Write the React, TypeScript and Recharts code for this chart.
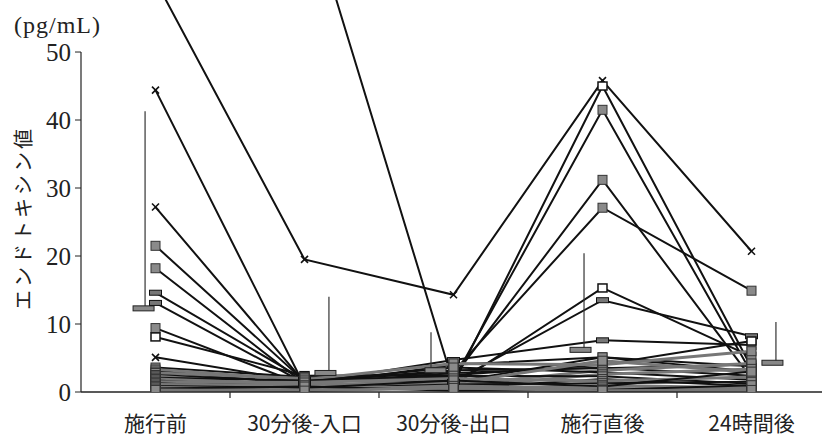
import React from 'react';
import { ComposedChart, Line, Scatter, XAxis, YAxis, ErrorBar, ReferenceLine } from 'recharts';

const timePoints = ['施行前', '30分後-入口', '30分後-出口', '施行直後', '24時間後'];

// 症例ごとのエンドトキシン値 (pg/mL): 施行前, 入口, 出口, 直後, 24時間後
const patientValues: number[][] = [
  [60.5, 19.5, 14.3, 45.8, 20.7],
  [95.0, 73.0, 1.2, 45.0, 3.6],
  [44.4, 0.9, 1.8, 41.5, 2.8],
  [27.2, 1.4, 2.2, 31.2, 2.0],
  [21.5, 1.6, 3.0, 27.1, 14.9],
  [18.2, 1.2, 1.0, 15.3, 5.2],
  [14.6, 1.8, 1.5, 13.5, 8.2],
  [13.1, 1.3, 4.7, 7.6, 6.9],
  [9.4, 1.0, 4.0, 5.1, 3.0],
  [8.1, 2.4, 2.5, 4.0, 7.5],
  [5.1, 1.5, 3.2, 3.5, 4.0],
  [3.6, 2.2, 1.5, 5.1, 3.8],
  [3.3, 1.8, 4.2, 4.0, 6.0],
  [3.0, 1.2, 2.8, 3.6, 2.4],
  [2.8, 2.0, 1.0, 3.2, 4.2],
  [2.5, 1.5, 3.6, 2.9, 1.8],
  [2.3, 0.9, 0.7, 2.6, 3.4],
  [2.1, 1.7, 2.4, 2.3, 1.2],
  [1.9, 1.1, 1.3, 4.6, 2.9],
  [1.7, 0.7, 0.5, 1.9, 0.9],
  [1.5, 1.4, 2.0, 1.6, 2.2],
  [1.3, 0.5, 1.1, 1.3, 1.5],
  [1.1, 1.0, 0.4, 1.0, 0.6],
  [0.9, 0.6, 1.7, 0.8, 3.0],
  [0.7, 0.3, 0.9, 0.5, 0.4],
  [0.5, 0.8, 0.2, 0.3, 1.0],
  [0.3, 0.2, 0.6, 0.2, 0.3],
];

const meanValues = [12.3, 2.8, 3.2, 6.2, 4.3];
const sdValues = [29.0, 11.2, 5.6, 14.2, 6.0];
const yTicks = [0, 10, 20, 30, 40, 50];
const xBoundaries = [0.5, 1.5, 2.5, 3.5];

// marker per patient and time point: x = cross, o = open square, b = bar, g = gray square
const markerKinds = [
  'xxxxx', 'ooooo', 'xgggg', 'xgggg', 'ggggg', 'gggog', 'bbbbb', 'bbbbg', 'ggggg', 'ooooo', 'xgggg',
  'ggggg', 'ggggg', 'ggggg', 'ggggg', 'ggggg', 'ggggg', 'ggggg', 'ggggg', 'ggggg', 'ggggg', 'ggggg',
  'ggggg', 'ggggg', 'ggggg', 'ggggg', 'ggggg',
];

// where the mean marks sit relative to each time point
const meanShift = [-0.07, 0.164, -0.151, -0.124, 0.164];
const dashLeft = [-12, -14, -6, -14, -14];

const rows = timePoints.map((_, i) => {
  const row: Record<string, number> = { x: i };
  patientValues.forEach((vals, p) => {
    row[`p${p}`] = vals[i];
  });
  return row;
});

const meanRows = meanValues.map((m, i) => ({
  x: i + meanShift[i],
  mean: m,
  err: [0, sdValues[i]],
  idx: i,
}));

const renderDot = (kinds: string) => (props: any) => {
  const { cx, cy, index } = props;
  if (cx == null || cy == null) return <g key={index} />;
  const kind = kinds[index];
  if (kind === 'x') {
    return (
      <g key={index} stroke="#111" strokeWidth={1.6}>
        <line x1={cx - 3.5} y1={cy - 3.5} x2={cx + 3.5} y2={cy + 3.5} />
        <line x1={cx - 3.5} y1={cy + 3.5} x2={cx + 3.5} y2={cy - 3.5} />
      </g>
    );
  }
  if (kind === 'o') {
    return <rect key={index} x={cx - 4.5} y={cy - 4} width={9} height={8} fill="#fff" stroke="#111" strokeWidth={1.5} />;
  }
  if (kind === 'b') {
    return <rect key={index} x={cx - 6} y={cy - 2.5} width={12} height={5} fill="#777" stroke="#111" strokeWidth={1} />;
  }
  return <rect key={index} x={cx - 4.5} y={cy - 4.5} width={9} height={9} fill="#8a8a8a" stroke="#333" strokeWidth={1} />;
};

const renderMean = (props: any) => {
  const { cx, cy, payload } = props;
  const left = dashLeft[payload.idx];
  return <rect x={cx + left} y={cy - 2.5} width={21} height={5} fill="#888" stroke="#222" strokeWidth={1} />;
};

export default function App() {
  return (
    <div style={{ position: 'absolute', left: 0, top: 0, width: 822, height: 440, overflow: 'hidden', background: '#fff' }}>
      <ComposedChart width={830} height={440} data={rows} margin={{ top: 0, right: 4, bottom: 0, left: 0 }}>
        <XAxis
          dataKey="x"
          type="number"
          domain={[-0.5, 4.5]}
          ticks={[0, 1, 2, 3, 4]}
          interval={0}
          tickFormatter={(v: number) => timePoints[v]}
          tickLine={false}
          tickSize={0}
          tickMargin={24}
          height={48}
          axisLine={{ stroke: '#222', strokeWidth: 1.5 }}
          tick={{ fontSize: 21, fill: '#222', fontFamily: 'Noto Sans CJK JP' }}
        />
        <YAxis
          type="number"
          domain={[0, 57.65]}
          allowDataOverflow
          ticks={yTicks}
          width={81}
          axisLine={false}
          tickSize={6}
          tickMargin={4}
          tickLine={{ stroke: '#222' }}
          tick={{ fontSize: 25, fill: '#222', fontFamily: 'Liberation Serif' }}
        />
        <ReferenceLine
          segment={[{ x: -0.5, y: 0 }, { x: -0.5, y: 50 }]}
          stroke="#222"
          strokeWidth={1.2}
          ifOverflow="visible"
        />
        {xBoundaries.map((b) => (
          <ReferenceLine
            key={b}
            segment={[{ x: b, y: 0 }, { x: b, y: -0.9 }]}
            stroke="#222"
            strokeWidth={1.2}
            ifOverflow="visible"
          />
        ))}
        {patientValues.map((_, p) => (
          <Line
            key={p}
            dataKey={`p${p}`}
            type="linear"
            stroke={p > 11 && p % 2 === 0 ? '#777' : '#111'}
            strokeWidth={p > 11 && p % 2 === 0 ? 3 : 2}
            dot={renderDot(markerKinds[p])}
            activeDot={false}
            isAnimationActive={false}
          />
        ))}
        <Scatter data={meanRows} dataKey="mean" shape={renderMean} isAnimationActive={false}>
          <ErrorBar dataKey="err" direction="y" width={0} stroke="#333" strokeWidth={1.2} isAnimationActive={false} />
        </Scatter>
      </ComposedChart>
      <div
        style={{
          position: 'absolute',
          left: 14,
          top: 13,
          fontFamily: 'Liberation Serif',
          fontSize: 24,
          lineHeight: '24px',
          letterSpacing: 1,
          color: '#222',
        }}
      >
        (pg/mL)
      </div>
      <div
        style={{
          position: 'absolute',
          left: 23,
          top: 218,
          transform: 'translate(-50%, -50%) rotate(-90deg)',
          whiteSpace: 'nowrap',
          fontFamily: 'Noto Sans CJK JP',
          fontSize: 20,
          lineHeight: '20px',
          letterSpacing: 3,
          color: '#222',
        }}
      >
        エンドトキシン値
      </div>
    </div>
  );
}
